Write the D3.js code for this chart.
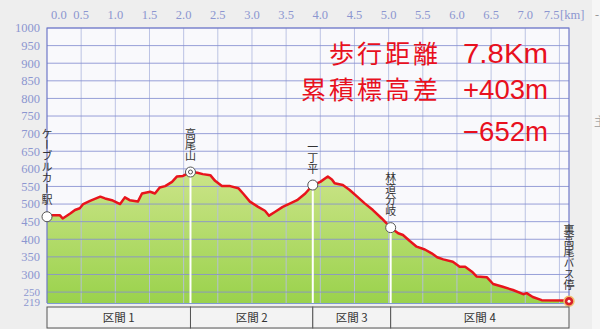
<!DOCTYPE html>
<html>
<head>
<meta charset="utf-8">
<script src="https://cdn.jsdelivr.net/npm/d3@7"></script>
<style>
  html, body { margin: 0; padding: 0; background: #efefef; }
  svg { display: block; }
</style>
</head>
<body>
<div id="chart"></div>
<script>
// profile: distance [km] and elevation [m]
const distKm = [0.00, 0.07, 0.19, 0.23, 0.34, 0.41, 0.48, 0.53, 0.63, 0.78, 0.85, 0.95, 1.07, 1.14, 1.21, 1.33,
    1.39, 1.51, 1.58, 1.65, 1.73, 1.83, 1.90, 1.99, 2.10, 2.20, 2.28, 2.39, 2.46, 2.56, 2.68, 2.80, 2.87,
    2.97, 3.09, 3.19, 3.25, 3.34, 3.45, 3.56, 3.66, 3.78, 3.89, 4.00, 4.11, 4.17, 4.21, 4.33, 4.43, 4.54,
    4.65, 4.77, 4.90, 5.03, 5.14, 5.21, 5.31, 5.41, 5.53, 5.63, 5.71, 5.80, 5.94, 6.04, 6.12, 6.22, 6.29,
    6.44, 6.53, 6.67, 6.82, 6.97, 7.02, 7.11, 7.24, 7.61, 7.64];
const elevM = [464, 468, 468, 459, 473, 483, 488, 500, 509, 521, 516, 511, 500, 519, 511, 507,
    530, 535, 530, 547, 551, 563, 578, 580, 591, 589, 585, 582, 566, 551, 551, 545, 530,
    507, 492, 481, 467, 478, 492, 502, 511, 530, 554, 563, 578, 570, 559, 554, 540, 521,
    502, 483, 459, 433, 417, 412, 395, 379, 371, 360, 349, 343, 336, 322, 322, 308, 294,
    292, 273, 265, 256, 244, 247, 236, 227, 226, 224];

const xTicks = [0, 0.5, 1, 1.5, 2, 2.5, 3, 3.5, 4, 4.5, 5, 5.5, 6, 6.5, 7, 7.5];
const yTicks = [250, 300, 350, 400, 450, 500, 550, 600, 650, 700, 750, 800, 850, 900, 950, 1000];
const yMin = 219;

const pointNames = ["ケーブルカー駅", "高尾山", "一丁平", "林道分岐", "裏高尾バス停"];
const pointKm = [0.00, 2.10, 3.89, 5.03, 7.64];
const pointElev = [464, 591, 554, 433, 224];

const sectionLabels = ["区間 1", "区間 2", "区間 3", "区間 4"];
const sectionEnds = [0, 2.10, 3.89, 5.03, 7.64];

const summaryLabels = ["歩行距離", "累積標高差", ""];
const summaryValues = ["7.8Km", "+403m", "−652m"];

const W = 600, H = 329;
const svg = d3.select("#chart").append("svg").attr("width", W).attr("height", H);

const x = d3.scaleLinear().domain([0, 7.64]).range([47, 569]);
const y = d3.scaleLinear().domain([yMin, 1000]).range([303, 28]);

const labelFont = "'Liberation Serif', 'DejaVu Serif', serif";
const cjkFont = "'Noto Sans CJK JP', sans-serif";
const axisColor = "#8c96d0";

// background bits
svg.append("rect").attr("width", W).attr("height", H).attr("fill", "#eeeeee");
svg.append("rect").attr("x", 592).attr("y", 0).attr("width", 8).attr("height", H).attr("fill", "#f6f6f6");
svg.append("rect").attr("x", x(0)).attr("y", y(1000)).attr("width", x(7.64) - x(0)).attr("height", y(yMin) - y(1000))
    .attr("fill", "#f9f9fc");

const defs = svg.append("defs");
const grad = defs.append("linearGradient").attr("id", "fillGrad")
    .attr("x1", 0).attr("y1", 0).attr("x2", 0).attr("y2", 1);
grad.append("stop").attr("offset", "0%").attr("stop-color", "#cbe488");
grad.append("stop").attr("offset", "100%").attr("stop-color", "#9ad24c");

const profile = distKm.map((d, i) => ({km: d, elev: elevM[i]}));

// green area
const area = d3.area().x(d => x(d.km)).y0(y(yMin)).y1(d => y(d.elev));
svg.append("path").datum(profile).attr("d", area).attr("fill", "url(#fillGrad)");

// grid lines (drawn over the fill like the original)
const gridG = svg.append("g");
gridG.selectAll(".vgrid").data(xTicks.slice(1)).join("line")
    .attr("x1", d => x(d)).attr("x2", d => x(d))
    .attr("y1", y(1000)).attr("y2", y(yMin))
    .attr("stroke", "#b7bfe2").attr("stroke-width", 1).attr("opacity", 0.9);
gridG.selectAll(".hgrid").data(yTicks).join("line")
    .attr("x1", x(0)).attr("x2", x(7.64))
    .attr("y1", d => y(d)).attr("y2", d => y(d))
    .attr("stroke", "#8790d2").attr("stroke-width", 1).attr("opacity", 0.85);
// frame
svg.append("path")
    .attr("d", `M${x(0)},${y(yMin)}V${y(1000)}H${x(7.64)}V${y(yMin)}`)
    .attr("fill", "none").attr("stroke", "#6f78c8").attr("stroke-width", 1.2);
svg.append("line").attr("x1", x(0)).attr("x2", x(7.64)).attr("y1", y(yMin) + 0.5).attr("y2", y(yMin) + 0.5)
    .attr("stroke", "#7f9ad0").attr("stroke-width", 1);

// white drop lines at the waypoints
svg.selectAll(".drop").data(pointKm.slice(1, 4)).join("line")
    .attr("x1", d => x(d)).attr("x2", d => x(d))
    .attr("y1", (d, i) => y(pointElev[i + 1])).attr("y2", y(yMin))
    .attr("stroke", "#ffffff").attr("stroke-width", 2);

// red profile line
const line = d3.line().x(d => x(d.km)).y(d => y(d.elev));
svg.append("path").datum(profile).attr("d", line)
    .attr("fill", "none").attr("stroke", "#e8141c").attr("stroke-width", 2.5)
    .attr("stroke-linejoin", "round");

// y axis labels (219 nudged so it sits just under 250 as in the original)
svg.selectAll(".ylab").data(yTicks.concat([yMin])).join("text")
    .attr("x", 40).attr("y", d => d === yMin ? y(d) - 1 : y(d)).attr("dy", "0.35em")
    .attr("text-anchor", "end").attr("fill", axisColor)
    .attr("font-family", labelFont).attr("font-size", d => d === yMin || d === 250 ? 11 : 12.5)
    .text(d => d);

// x axis labels on top
svg.selectAll(".xlab").data(xTicks).join("text")
    .attr("x", d => d === 0 ? x(d) + 4 : x(d))
    .attr("y", 15).attr("dy", "0.35em")
    .attr("text-anchor", d => d === 0 ? "start" : (d === 7.5 ? "end" : "middle"))
    .attr("fill", axisColor)
    .attr("font-family", labelFont).attr("font-size", 12.5)
    .text(d => d.toFixed(1));
svg.append("text").attr("x", 560).attr("y", 15).attr("dy", "0.35em")
    .attr("fill", axisColor).attr("font-family", labelFont).attr("font-size", 12.5).text("[km]");
svg.append("text").attr("x", 595).attr("y", 15).attr("dy", "0.35em")
    .attr("fill", "#999").attr("font-family", labelFont).attr("font-size", 12).text("-");
svg.append("text").attr("x", 594).attr("y", 122).attr("dy", "0.35em")
    .attr("fill", "#aaa").attr("font-family", cjkFont).attr("font-size", 12).text("主");

// waypoint labels (vertical)
svg.selectAll(".plab").data(pointNames).join("text")
    .attr("x", (d, i) => x(pointKm[i]))
    .attr("y", (d, i) => y(pointElev[i]) - 11)
    .attr("writing-mode", "vertical-rl")
    .attr("text-anchor", "end")
    .attr("fill", "#333").attr("font-family", cjkFont).attr("font-size", 11)
    .text(d => d);

// waypoint markers
pointNames.forEach((name, i) => {
    const cx = x(pointKm[i]), cy = y(pointElev[i]);
    if (i === pointNames.length - 1) {
        svg.append("circle").attr("cx", cx).attr("cy", cy).attr("r", 5)
            .attr("fill", "#d8202a").attr("stroke", "#f0c070").attr("stroke-width", 1.5);
        svg.append("circle").attr("cx", cx).attr("cy", cy).attr("r", 1.5).attr("fill", "#fff");
    } else {
        svg.append("circle").attr("cx", cx).attr("cy", cy).attr("r", 5)
            .attr("fill", "#ffffff").attr("stroke", "#555").attr("stroke-width", 1);
        if (name === "高尾山") {
            svg.append("circle").attr("cx", cx).attr("cy", cy).attr("r", 2)
                .attr("fill", "#ffffff").attr("stroke", "#555").attr("stroke-width", 1);
        }
    }
});

// section bar
const secG = svg.append("g");
sectionLabels.forEach((lab, i) => {
    const x0 = x(sectionEnds[i]), x1 = x(sectionEnds[i + 1]);
    secG.append("rect").attr("x", x0).attr("y", 307).attr("width", x1 - x0).attr("height", 21)
        .attr("fill", "#f3f3f3").attr("stroke", "#555").attr("stroke-width", 1);
    secG.append("text").attr("x", (x0 + x1) / 2).attr("y", 318).attr("dy", "0.35em")
        .attr("text-anchor", "middle").attr("fill", "#333")
        .attr("font-family", cjkFont).attr("font-size", 11.5).text(lab);
});

// summary in red
const sumY = [54, 90, 132];
summaryLabels.forEach((lab, i) => {
    if (lab) {
        svg.append("text").attr("x", 438).attr("y", sumY[i]).attr("dy", "0.35em")
            .attr("text-anchor", "end").attr("fill", "#e8101e")
            .attr("font-family", cjkFont).attr("font-size", 25)
            .attr("textLength", lab.length * 28 - 3).attr("lengthAdjust", "spacing")
            .text(lab);
    }
    svg.append("text").attr("x", 463).attr("y", sumY[i]).attr("dy", "0.35em")
        .attr("fill", "#e8101e").attr("font-family", "'Liberation Sans', Arial, sans-serif").attr("font-size", 27)
        .attr("textLength", 85).attr("lengthAdjust", "spacingAndGlyphs")
        .text(summaryValues[i]);
});
</script>
</body>
</html>
